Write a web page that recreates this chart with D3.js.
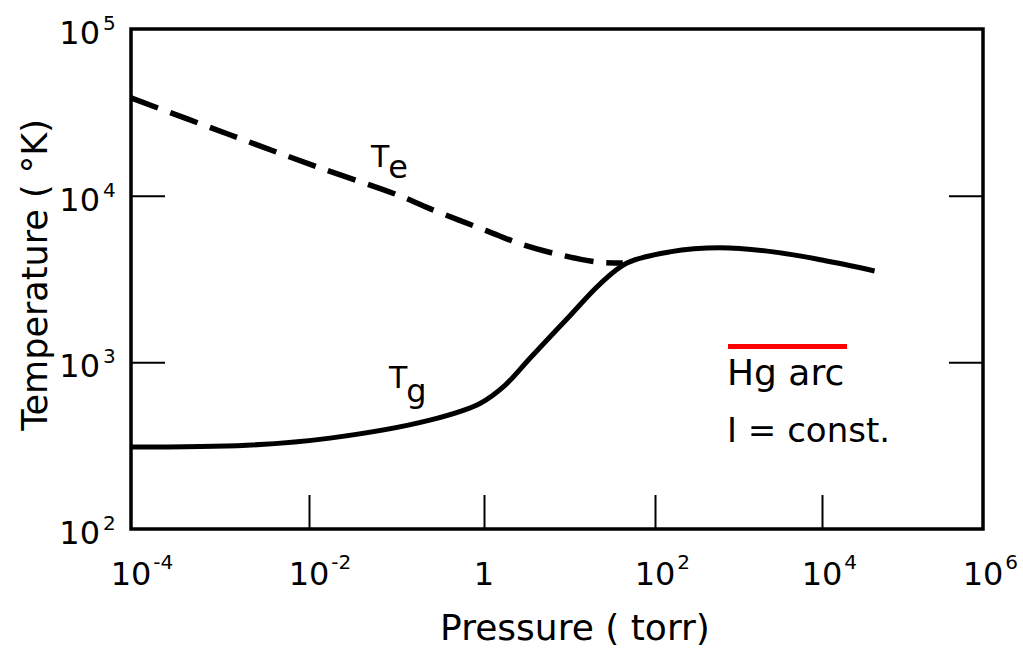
<!DOCTYPE html>
<html>
<head>
<meta charset="utf-8">
<script src="https://cdn.jsdelivr.net/npm/d3@7/dist/d3.min.js"></script>
<style>
  html, body { margin: 0; padding: 0; background: #fff; }
  svg { display: block; }
  text { font-family: "DejaVu Sans", sans-serif; fill: #000; }
</style>
</head>
<body>
<svg id="chart" width="1023" height="650"></svg>
<script>
// ---- data ----
const xTickValues = [1e-4, 1e-2, 1, 1e2, 1e4, 1e6];
const xTickBase = ["10", "10", "1", "10", "10", "10"];
const xTickExp = ["-4", "-2", "", "2", "4", "6"];
const yTickValues = [1e2, 1e3, 1e4, 1e5];
const yTickBase = ["10", "10", "10", "10"];
const yTickExp = ["2", "3", "4", "5"];

// electron temperature Te (dashed)
const tePressure = [1e-4, 1.29e-3, 0.0123, 0.101, 0.24, 1.08, 2.86, 7.74, 21, 42];
const teTemp = [38600, 23200, 14900, 10140, 8360, 6150, 5070, 4415, 4000, 3945];

// gas temperature Tg (solid)
const tgPressure = [1e-4, 2e-3, 0.0174, 0.24, 0.9, 1.76, 3.45, 10, 22.7, 47, 150, 600, 2600, 1e4, 4.5e4];
const tgTemp = [310, 318, 351, 450, 567, 728, 1057, 1892, 2950, 3945, 4600, 4865, 4600, 4110, 3535];

const xTitle = "Pressure ( torr)";
const yTitle = "Temperature ( °K)";
const noteLines = ["Hg arc", "I = const."];

// ---- layout ----
const svg = d3.select("#chart");
const pLeft = 131, pRight = 983, pTop = 29, pBottom = 529;

// the scanned figure has slightly uneven decade spacing: polylinear log scale
const x = d3.scaleLog()
  .domain(xTickValues)
  .range([131, 309, 484, 655, 822, 983]);
const y = d3.scaleLog()
  .domain([1e2, 1e5])
  .range([pBottom, pTop]);

// inner ticks
const tickLen = 34;
const gx = svg.append("g").attr("transform", `translate(0,${pBottom})`)
  .call(d3.axisBottom(x).tickValues(xTickValues.slice(1, -1)).tickSizeInner(-tickLen).tickSizeOuter(0).tickFormat(""));
const gyl = svg.append("g").attr("transform", `translate(${pLeft},0)`)
  .call(d3.axisLeft(y).tickValues(yTickValues.slice(1, -1)).tickSizeInner(-tickLen).tickSizeOuter(0).tickFormat(""));
const gyr = svg.append("g").attr("transform", `translate(${pRight},0)`)
  .call(d3.axisRight(y).tickValues(yTickValues.slice(1, -1)).tickSizeInner(-tickLen).tickSizeOuter(0).tickFormat(""));
[gx, gyl, gyr].forEach(g => {
  g.select(".domain").remove();
  g.selectAll(".tick line").attr("stroke", "#000").attr("stroke-width", 2);
});

// frame
svg.append("rect")
  .attr("x", pLeft).attr("y", pTop)
  .attr("width", pRight - pLeft).attr("height", pBottom - pTop)
  .attr("fill", "none").attr("stroke", "#000").attr("stroke-width", 3.5);

// x tick labels
xTickValues.forEach((v, i) => {
  const cx = x(v);
  const t = svg.append("text")
    .attr("x", cx).attr("y", 585)
    .attr("text-anchor", "middle")
    .style("font-size", "32px")
    .text(xTickBase[i]);
  if (xTickExp[i]) {
    const w = t.node().getComputedTextLength();
    svg.append("text")
      .attr("x", cx + w / 2 + 2).attr("y", 569)
      .style("font-size", "20px")
      .text(xTickExp[i]);
  }
});

// y tick labels
yTickValues.forEach((v, i) => {
  const cy = y(v);
  svg.append("text")
    .attr("x", 100).attr("y", cy + 15)
    .attr("text-anchor", "end")
    .style("font-size", "32px")
    .text(yTickBase[i]);
  svg.append("text")
    .attr("x", 103).attr("y", cy + 1)
    .style("font-size", "20px")
    .text(yTickExp[i]);
});

// axis titles
svg.append("text")
  .attr("x", 575).attr("y", 640)
  .attr("text-anchor", "middle")
  .style("font-size", "36px")
  .text(xTitle);
svg.append("text")
  .attr("transform", "translate(47,275) rotate(-90)")
  .attr("text-anchor", "middle")
  .style("font-size", "35px")
  .text(yTitle);

// curves
const line = d3.line()
  .x(d => x(d[0]))
  .y(d => y(d[1]))
  .curve(d3.curveCatmullRom.alpha(0.5));

svg.append("path")
  .datum(tgPressure.map((p, i) => [p, tgTemp[i]]))
  .attr("d", line)
  .attr("fill", "none").attr("stroke", "#000").attr("stroke-width", 5)
  .attr("stroke-linejoin", "round");

svg.append("path")
  .datum(tePressure.map((p, i) => [p, teTemp[i]]))
  .attr("d", line)
  .attr("fill", "none").attr("stroke", "#000").attr("stroke-width", 5.5)
  .attr("stroke-dasharray", "29,13");

// curve labels
function curveLabel(px, py, sub, subDy) {
  const t = svg.append("text").attr("x", px).attr("y", py).style("font-size", "30px");
  t.append("tspan").text("T");
  t.append("tspan").attr("dy", subDy).attr("dx", -1).style("font-size", "32px").text(sub);
}
curveLabel(371, 167, "e", 11);
curveLabel(389, 388, "g", 14);

// annotation
svg.append("line")
  .attr("x1", 728).attr("x2", 847)
  .attr("y1", 346.5).attr("y2", 346.5)
  .attr("stroke", "#ff0000").attr("stroke-width", 5);
svg.append("text")
  .attr("x", 727).attr("y", 385)
  .style("font-size", "36px")
  .text(noteLines[0]);
svg.append("text")
  .attr("x", 727).attr("y", 442)
  .style("font-size", "34px")
  .text(noteLines[1]);
</script>
</body>
</html>
